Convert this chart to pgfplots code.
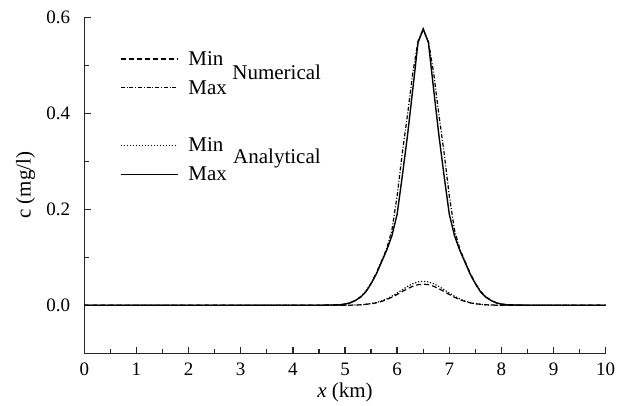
\documentclass[border=0pt]{standalone}
\usepackage{fontspec}
\setmainfont{Liberation Serif}
\usepackage{pgfplots}
\pgfplotsset{compat=1.18}
\tikzset{
  numdash/.style={black, line width=0.6pt, dash pattern=on 2.5pt off 1.5pt},
  numdashdot/.style={black, line width=0.6pt, dash pattern=on 2pt off 0.9pt on 0.5pt off 0.9pt},
  anadot/.style={black, line width=0.6pt, dash pattern=on 0.6pt off 0.9pt},
  anasolid/.style={black, line width=0.7pt},
}
\newcommand{\lblfont}{\fontsize{10.5}{12}\selectfont}
\begin{document}
\begin{tikzpicture}[font=\fontsize{9.5}{11}\selectfont]
\begin{axis}[
  scale only axis, width=260.7pt, height=168pt,
  xmin=0, xmax=10, ymin=-0.1, ymax=0.6,
  axis lines*=left,
  axis line style={line width=0.7pt, color=black!85},
  xtick={0,1,...,10}, minor xtick={0.5,1.5,...,9.5},
  ytick={0,0.2,0.4,0.6}, minor ytick={0.1,0.3,0.5},
  xtick pos=bottom, ytick pos=left,
  tick align=inside,
  major tick length=3.2pt, minor tick length=2.2pt,
  tick style={line width=0.7pt, color=black!85},
  /pgf/number format/assume math mode=true,
  yticklabel style={/pgf/number format/fixed, /pgf/number format/fixed zerofill, /pgf/number format/precision=1, xshift=-3.5pt},
  xticklabel style={/pgf/number format/fixed, yshift=-1.5pt},
  xlabel={\textit{x} (km)}, ylabel={c (mg/l)},
  every axis x label/.style={at={(axis description cs:0.5,-0.118)}, anchor=center, font=\lblfont},
  every axis y label/.style={at={(axis description cs:-0.1124,0.5)}, rotate=90, anchor=center, font=\lblfont},
  legend image code/.code={\draw[#1] (0pt,-0.5pt) -- (28.5pt,-0.5pt);},
  legend cell align=left,
  legend style={draw=none, fill=none, inner sep=0pt, outer sep=0pt,
    at={(0.0685,0.9)}, anchor=north west,
    row sep=7.2pt, column sep=5pt, font=\lblfont,
    nodes={inner sep=0pt, text height=7.2pt, text depth=0pt}},
]
\coordinate (O) at (rel axis cs:0,0);
\coordinate (T) at (rel axis cs:1,1);
% Numerical Min
\addplot[numdash, forget plot] coordinates {
(0,0) (4.5,0) (5.1,0.0002) (5.3,0.001) (5.5,0.0031) (5.6,0.0051) (5.7,0.008) (5.8,0.0119) (5.9,0.0168) (6.0,0.0225) (6.1,0.0287) (6.2,0.0346) (6.3,0.0395) (6.4,0.0429) (6.5,0.044)
(6.6,0.0429) (6.7,0.0395) (6.8,0.0346) (6.9,0.0287) (7.0,0.0225) (7.1,0.0168) (7.2,0.0119) (7.3,0.008) (7.4,0.0051) (7.5,0.0031) (7.7,0.001) (7.9,0.0002) (8.5,0) (10,0)
};
% Numerical Max
\addplot[numdashdot, forget plot] coordinates {
(0,0) (4.5,0) (4.7,0.0005) (4.9,0.0012) (5.0,0.0027) (5.1,0.0053) (5.2,0.0105) (5.3,0.018) (5.4,0.029) (5.5,0.046) (5.6,0.067) (5.7,0.092) (5.8,0.118) (5.9,0.157) (6.0,0.228) (6.1,0.318) (6.2,0.398) (6.3,0.484) (6.4,0.55) (6.5,0.574)
(6.6,0.55) (6.7,0.484) (6.8,0.398) (6.9,0.318) (7.0,0.228) (7.1,0.157) (7.2,0.118) (7.3,0.092) (7.4,0.067) (7.5,0.046) (7.6,0.029) (7.7,0.018) (7.8,0.0105) (7.9,0.0053) (8.0,0.0027) (8.1,0.0012) (8.3,0.0005) (8.5,0) (10,0)
};
% Analytical Min
\addplot[anadot, forget plot] coordinates {
(0,0) (4.5,0) (5.1,0.0002) (5.3,0.001) (5.5,0.0034) (5.6,0.0056) (5.7,0.0089) (5.8,0.0133) (5.9,0.0189) (6.0,0.0254) (6.1,0.0325) (6.2,0.0392) (6.3,0.0449) (6.4,0.0487) (6.5,0.050)
(6.6,0.0487) (6.7,0.0449) (6.8,0.0392) (6.9,0.0325) (7.0,0.0254) (7.1,0.0189) (7.2,0.0133) (7.3,0.0089) (7.4,0.0056) (7.5,0.0034) (7.7,0.001) (7.9,0.0002) (8.5,0) (10,0)
};
% Analytical Max
\addplot[anasolid, forget plot] coordinates {
(0,0) (4.5,0) (4.7,0.0005) (4.9,0.001) (5.0,0.0025) (5.1,0.005) (5.2,0.010) (5.3,0.017) (5.4,0.028) (5.5,0.045) (5.6,0.065) (5.7,0.09) (5.8,0.115) (5.9,0.145) (6.0,0.19) (6.1,0.27) (6.2,0.355) (6.3,0.45) (6.4,0.547) (6.5,0.576)
(6.6,0.547) (6.7,0.45) (6.8,0.355) (6.9,0.27) (7.0,0.19) (7.1,0.145) (7.2,0.115) (7.3,0.09) (7.4,0.065) (7.5,0.045) (7.6,0.028) (7.7,0.017) (7.8,0.010) (7.9,0.005) (8.0,0.0025) (8.1,0.001) (8.3,0.0005) (8.5,0) (10,0)
};
\addlegendimage{numdash}\addlegendentry{Min}
\addlegendimage{numdashdot}\addlegendentry{Max}
\addlegendimage{empty legend}\addlegendentry{}
\addlegendimage{anadot}\addlegendentry{Min}
\addlegendimage{anasolid}\addlegendentry{Max}
\node[anchor=base west, inner sep=0pt, font=\lblfont] at (axis description cs:0.2833,0.8134) {Numerical};
\node[anchor=base west, inner sep=0pt, font=\lblfont] at (axis description cs:0.2848,0.5655) {Analytical};
\end{axis}
\pgfresetboundingbox
\path ([shift={(-42.15pt,-26.35pt)}]O) rectangle ([shift={(10.15pt,8.65pt)}]T);
\end{tikzpicture}
\end{document}
